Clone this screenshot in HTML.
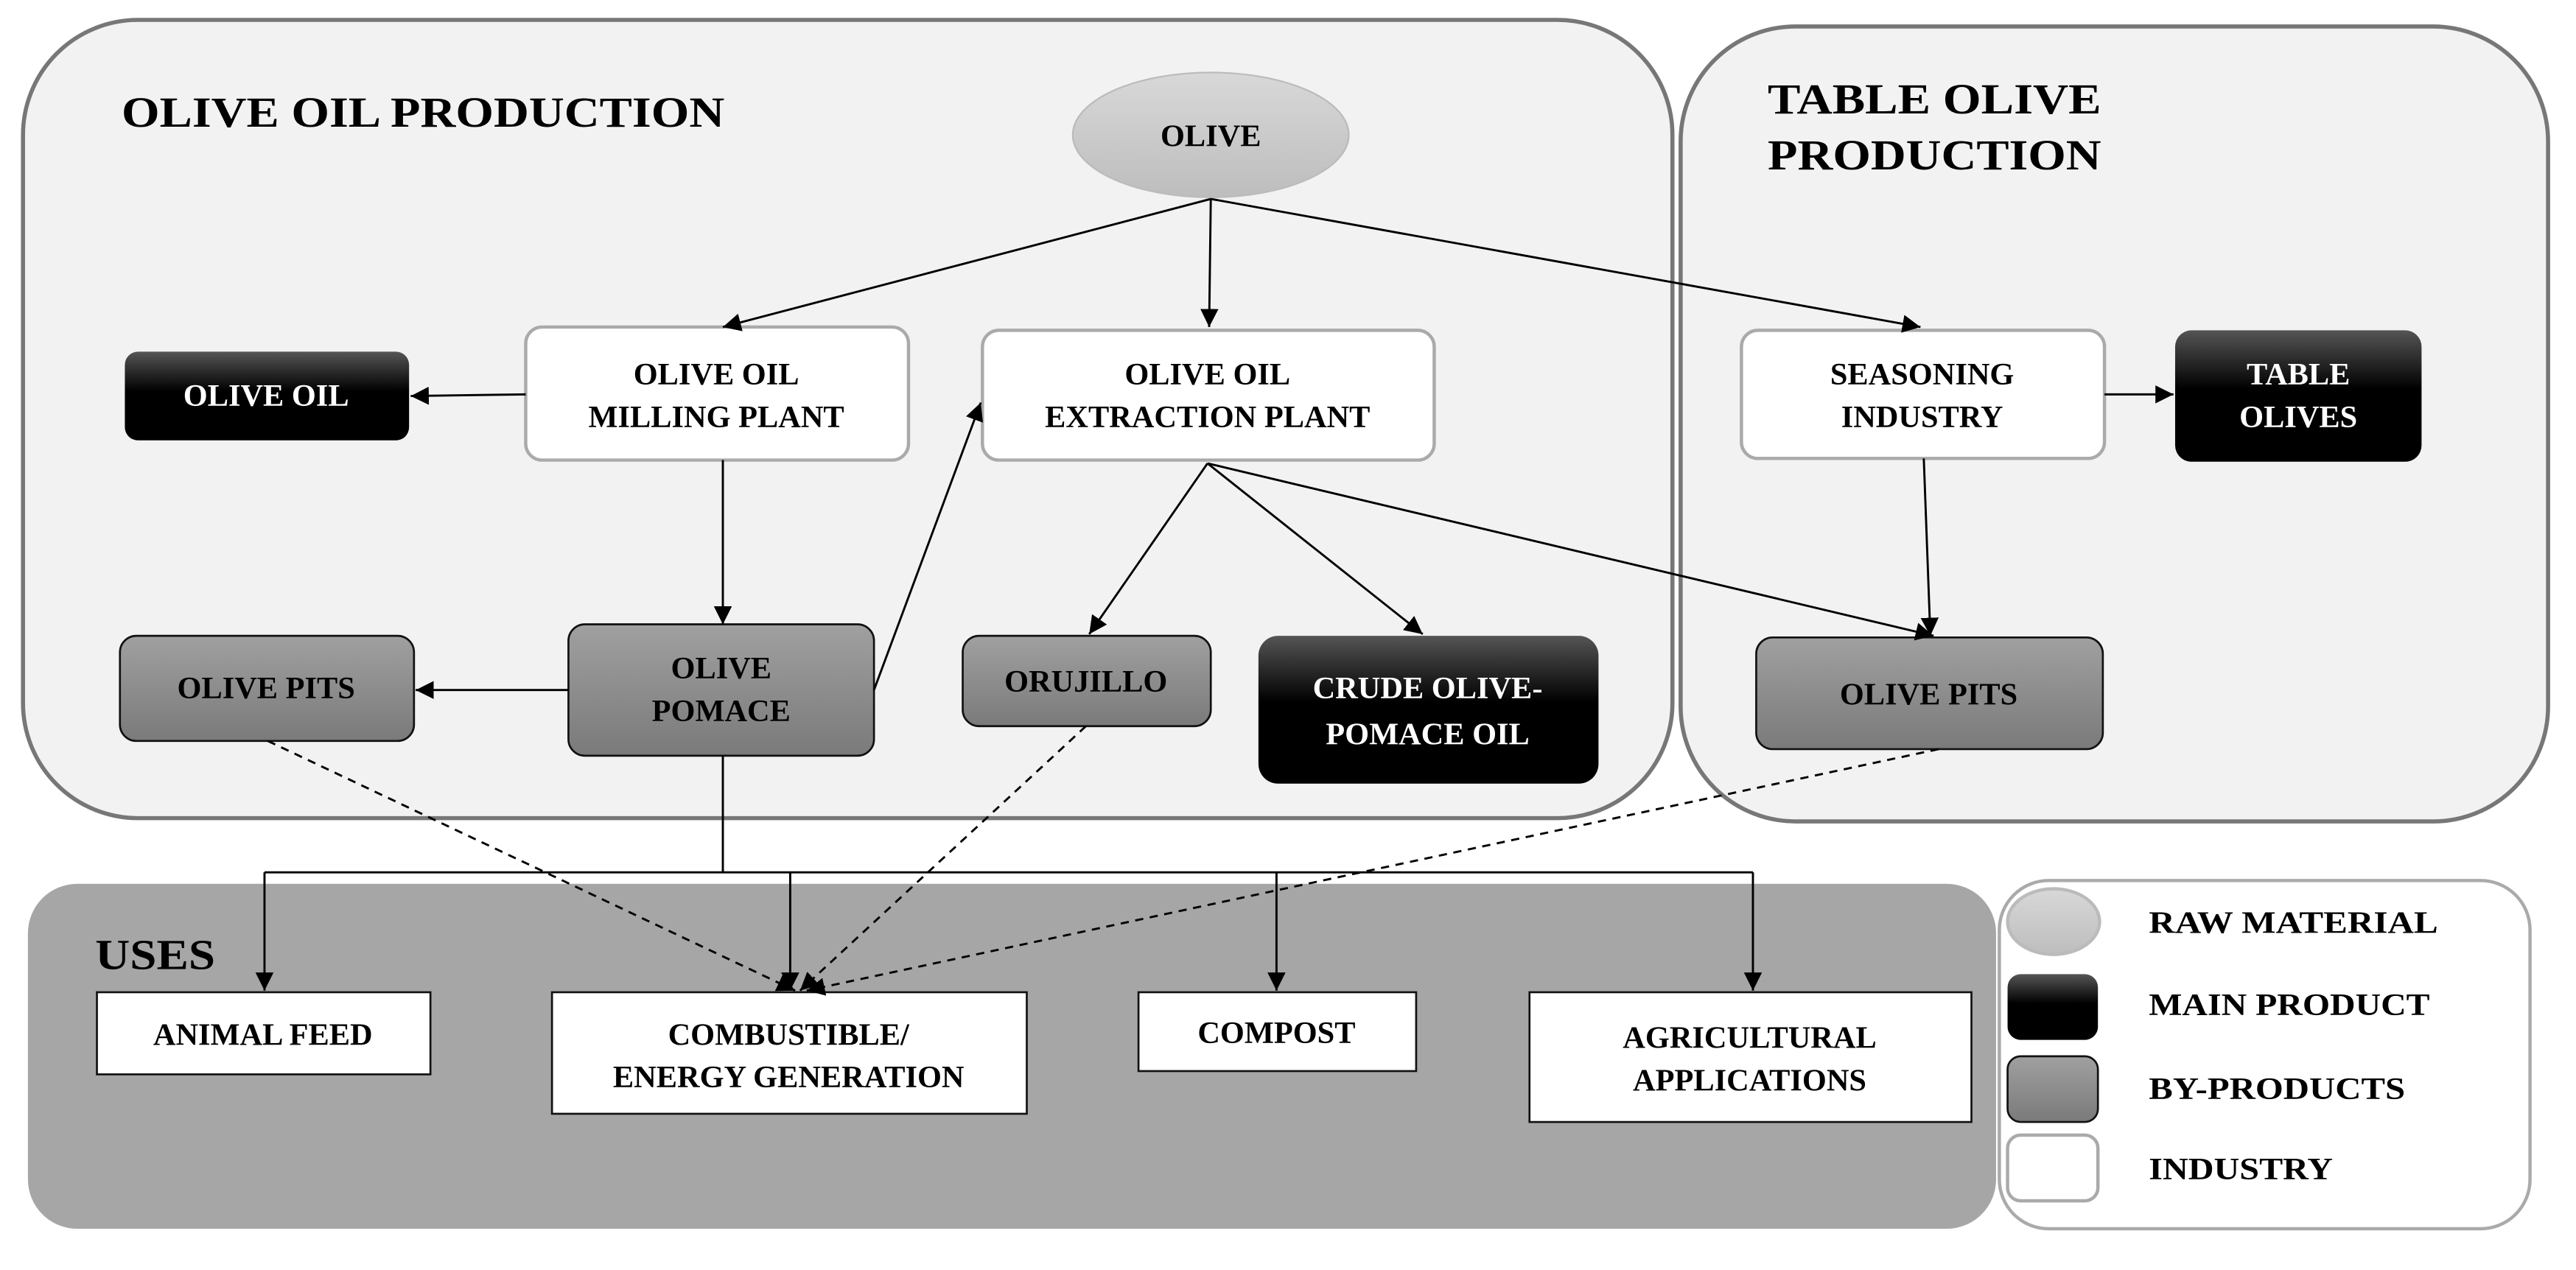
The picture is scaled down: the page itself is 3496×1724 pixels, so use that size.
<!DOCTYPE html>
<html><head><meta charset="utf-8"><style>html,body{margin:0;padding:0;background:#fff}svg{display:block}</style></head><body>
<svg width="3496" height="1724" viewBox="0 0 1568 773" xmlns="http://www.w3.org/2000/svg" font-family="Liberation Serif, serif" font-weight="bold">
<defs>
<linearGradient id="blk" x1="0" y1="0" x2="0" y2="1"><stop offset="0" stop-color="#555"/><stop offset="0.45" stop-color="#000"/><stop offset="1" stop-color="#000"/></linearGradient>
<linearGradient id="gry" x1="0" y1="0" x2="0" y2="1"><stop offset="0" stop-color="#a0a0a0"/><stop offset="1" stop-color="#7a7a7a"/></linearGradient>
<linearGradient id="ell" x1="0" y1="0" x2="0" y2="1"><stop offset="0" stop-color="#d8d8d8"/><stop offset="1" stop-color="#bdbdbd"/></linearGradient>
<marker id="a" viewBox="0 0 10 10" refX="10" refY="5" markerWidth="11" markerHeight="11" markerUnits="userSpaceOnUse" orient="auto"><path d="M0,0 L10,5 L0,10 z" fill="#000"/></marker>
</defs>
<rect x="14" y="12" width="1004" height="486" rx="70" fill="#f2f2f2" stroke="#777" stroke-width="2.5"/>
<rect x="1023" y="16" width="528" height="484" rx="70" fill="#f2f2f2" stroke="#777" stroke-width="2.5"/>
<rect x="17" y="538" width="1198" height="210" rx="30" fill="#a6a6a6"/>
<rect x="1217" y="536" width="323" height="212" rx="30" fill="#fff" stroke="#aaa" stroke-width="2"/>
<g font-size="26"><text x="74" y="77" textLength="367" lengthAdjust="spacingAndGlyphs">OLIVE OIL PRODUCTION</text><text x="1076" y="69" textLength="203" lengthAdjust="spacingAndGlyphs">TABLE OLIVE</text><text x="1076" y="103" textLength="203" lengthAdjust="spacingAndGlyphs">PRODUCTION</text><text x="58" y="590" textLength="73" lengthAdjust="spacingAndGlyphs">USES</text></g>
<ellipse cx="737" cy="82" rx="84" ry="38" fill="url(#ell)" stroke="#bbb"/>
<g stroke-width="2">
<rect x="76" y="214" width="173" height="54" rx="8" fill="url(#blk)"/>
<rect x="320" y="199" width="233" height="81" rx="10" fill="#fff" stroke="#aaa"/>
<rect x="598" y="201" width="275" height="79" rx="10" fill="#fff" stroke="#aaa"/>
<rect x="1060" y="201" width="221" height="78" rx="10" fill="#fff" stroke="#aaa"/>
<rect x="1324" y="201" width="150" height="80" rx="10" fill="url(#blk)"/>
<rect x="73" y="387" width="179" height="64" rx="10" fill="url(#gry)" stroke="#111" stroke-width="1.2"/>
<rect x="346" y="380" width="186" height="80" rx="10" fill="url(#gry)" stroke="#111" stroke-width="1.2"/>
<rect x="586" y="387" width="151" height="55" rx="10" fill="url(#gry)" stroke="#111" stroke-width="1.2"/>
<rect x="766" y="387" width="207" height="90" rx="12" fill="url(#blk)"/>
<rect x="1069" y="388" width="211" height="68" rx="10" fill="url(#gry)" stroke="#111" stroke-width="1.2"/>
<rect x="59" y="604" width="203" height="50" fill="#fff" stroke="#111" stroke-width="1.2"/>
<rect x="336" y="604" width="289" height="74" fill="#fff" stroke="#111" stroke-width="1.2"/>
<rect x="693" y="604" width="169" height="48" fill="#fff" stroke="#111" stroke-width="1.2"/>
<rect x="931" y="604" width="269" height="79" fill="#fff" stroke="#111" stroke-width="1.2"/>
<ellipse cx="1250" cy="561" rx="28" ry="20" fill="url(#ell)" stroke="#bbb"/>
<rect x="1222" y="593" width="55" height="40" rx="8" fill="url(#blk)"/>
<rect x="1222" y="643" width="55" height="40" rx="8" fill="url(#gry)" stroke="#111" stroke-width="1.2"/>
<rect x="1222" y="691" width="55" height="40" rx="8" fill="#fff" stroke="#aaa"/>
</g>
<g font-size="19" text-anchor="middle">
<text x="737" y="89">OLIVE</text>
<text x="162" y="247" fill="#fff">OLIVE OIL</text>
<text x="436" y="234">OLIVE OIL</text><text x="436" y="260">MILLING PLANT</text>
<text x="735" y="234">OLIVE OIL</text><text x="735" y="260">EXTRACTION PLANT</text>
<text x="1170" y="234">SEASONING</text><text x="1170" y="260">INDUSTRY</text>
<text x="1399" y="234" fill="#fff">TABLE</text><text x="1399" y="260" fill="#fff">OLIVES</text>
<text x="162" y="425">OLIVE PITS</text>
<text x="439" y="413">OLIVE</text><text x="439" y="439">POMACE</text>
<text x="661" y="421">ORUJILLO</text>
<text x="869" y="425" fill="#fff">CRUDE OLIVE-</text><text x="869" y="453" fill="#fff">POMACE OIL</text>
<text x="1174" y="429">OLIVE PITS</text>
<text x="160" y="636">ANIMAL FEED</text>
<text x="480" y="636">COMBUSTIBLE/</text><text x="480" y="662">ENERGY GENERATION</text>
<text x="777" y="635">COMPOST</text>
<text x="1065" y="638">AGRICULTURAL</text><text x="1065" y="664">APPLICATIONS</text>
</g>
<g font-size="19"><text x="1308" y="568" textLength="176" lengthAdjust="spacingAndGlyphs">RAW MATERIAL</text><text x="1308" y="618" textLength="171" lengthAdjust="spacingAndGlyphs">MAIN PRODUCT</text><text x="1308" y="669" textLength="156" lengthAdjust="spacingAndGlyphs">BY-PRODUCTS</text><text x="1308" y="718" textLength="112" lengthAdjust="spacingAndGlyphs">INDUSTRY</text></g>
<g stroke="#000" stroke-width="1.3" fill="none" marker-end="url(#a)">
<line x1="737" y1="121" x2="440" y2="199"/>
<line x1="737" y1="121" x2="736" y2="199"/>
<line x1="737" y1="121" x2="1169" y2="199"/>
<line x1="320" y1="240" x2="250" y2="241"/>
<line x1="440" y1="280" x2="440" y2="380"/>
<line x1="532" y1="420" x2="597" y2="245"/>
<line x1="346" y1="420" x2="253" y2="420"/>
<line x1="735" y1="282" x2="663" y2="386"/>
<line x1="735" y1="282" x2="866" y2="386"/>
<line x1="735" y1="282" x2="1177" y2="387"/>
<line x1="1281" y1="240" x2="1323" y2="240"/>
<line x1="1171" y1="279" x2="1175" y2="387"/>
<line x1="161" y1="531" x2="161" y2="603"/>
<line x1="481" y1="531" x2="481" y2="603"/>
<line x1="777" y1="531" x2="777" y2="603"/>
<line x1="1067" y1="531" x2="1067" y2="603"/>
<g stroke-dasharray="5,4">
<line x1="163" y1="451" x2="484" y2="603"/>
<line x1="661" y1="442" x2="487" y2="603"/>
<line x1="1180" y1="456" x2="491" y2="603"/>
</g>
</g>
<g stroke="#000" stroke-width="1.3"><line x1="440" y1="460" x2="440" y2="531"/><line x1="161" y1="531" x2="1067" y2="531"/></g>
</svg>
</body></html>
